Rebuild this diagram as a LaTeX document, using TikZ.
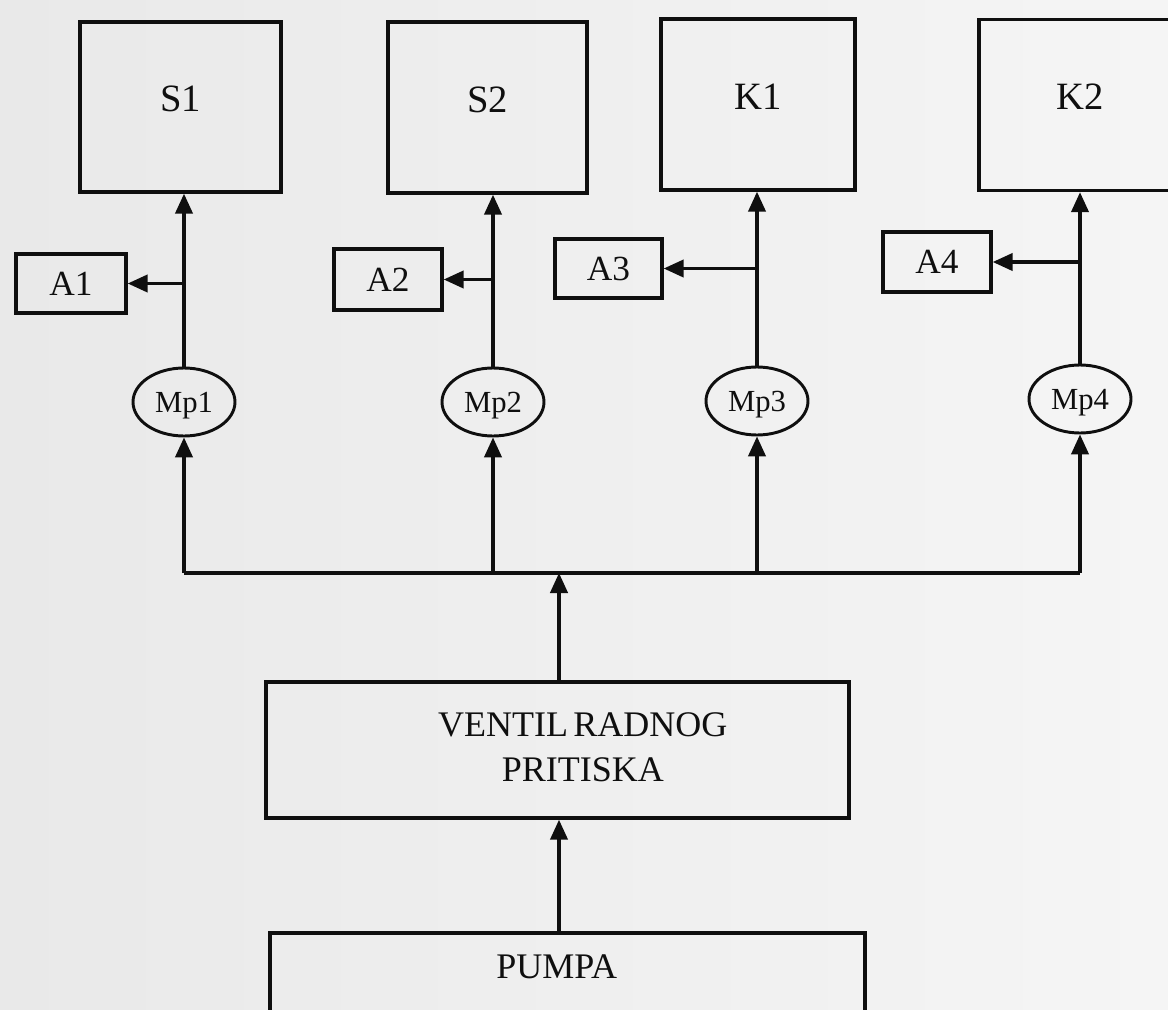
\documentclass[tikz,border=0pt]{standalone}
\usepackage{fontspec}
\setmainfont{Liberation Serif}
\usetikzlibrary{arrows.meta,shapes.geometric}
\definecolor{paperL}{RGB}{233,233,233}
\definecolor{paperR}{RGB}{245,245,245}
\definecolor{ink}{RGB}{15,15,15}
\begin{document}
\begin{tikzpicture}[x=0.75pt,y=-0.75pt,
  box/.style={draw=ink, line width=2.6pt, inner sep=0pt, text=ink},
  bigbox/.style={box, font=\fontsize{29}{30}\selectfont, text height=7pt, text depth=0pt},
  smallbox/.style={box, font=\fontsize{26.5}{28}\selectfont, minimum width=81pt, minimum height=44.5pt},
  gauge/.style={ellipse, draw=ink, line width=2.2pt, inner sep=0pt, text=ink,
    font=\fontsize{23}{25}\selectfont, minimum width=76.5pt, minimum height=51pt, text height=15pt, text depth=0pt},
  line/.style={draw=ink, line width=2.4pt},
  conn/.style={line, -{Triangle[length=15pt,width=13pt]}},
  lowtext/.style={font=\fontsize{27}{34}\selectfont, align=center, text=ink}
]
\shade[left color=paperL, right color=paperR] (0,0) rectangle (1168,1010);
\useasboundingbox (0,0) rectangle (1168,1010);
\clip (0,0) rectangle (1168,1010);

% top boxes
\node[bigbox, minimum width=150.75pt, minimum height=127.5pt]  (S1) at (180.5,107)  {S1};
\node[bigbox, minimum width=149.25pt, minimum height=128.25pt] (S2) at (487.5,107.5) {S2};
\node[bigbox, minimum width=145.5pt,  minimum height=128.25pt] (K1) at (758,104.5)  {K1};
\node[bigbox, minimum width=151.5pt,  minimum height=128.25pt] (K2) at (1080,105)   {K2};

% small boxes
\node[smallbox, minimum width=82.5pt] (A1) at (71,283.5)   {A1};
\node[smallbox, minimum height=45.75pt] (A2) at (388,279.5) {A2};
\node[smallbox, minimum width=80.25pt] (A3) at (608.5,268.5) {A3};
\node[smallbox, minimum height=45pt] (A4) at (937,262)      {A4};

% gauges
\node[gauge] (M1) at (184,402) {Mp1};
\node[gauge] (M2) at (493,402) {Mp2};
\node[gauge] (M3) at (757,401) {Mp3};
\node[gauge] (M4) at (1080,399) {Mp4};

% lower boxes
\node[box, minimum width=437.25pt, minimum height=102pt,
  label={[lowtext, xshift=19pt, yshift=2pt]center:VENTIL\kern-0.1em\ RADNOG\\PRITISKA}] (VR) at (557.5,750) {};
\node[box, minimum width=446.25pt, minimum height=90pt,
  label={[lowtext, xshift=-8pt, yshift=20pt]center:PUMPA}] (P) at (567.5,993) {};

% bus
\coordinate (bus) at (559,573);
\draw[line] (M1.south |- bus) -- (M4.south |- bus);

% bus to gauges
\draw[conn] (M1.south |- bus) -- (M1.south);
\draw[conn] (M2.south |- bus) -- (M2.south);
\draw[conn] (M3.south |- bus) -- (M3.south);
\draw[conn] (M4.south |- bus) -- (M4.south);

% gauges to consumers
\draw[conn] (M1.north) -- (M1.north |- S1.south);
\draw[conn] (M2.north) -- (M2.north |- S2.south);
\draw[conn] (M3.north) -- (M3.north |- K1.south);
\draw[conn] (M4.north) -- (M4.north |- K2.south);

% branches to A
\draw[conn] (M1.north |- A1.east) -- (A1.east);
\draw[conn] (M2.north |- A2.east) -- (A2.east);
\draw[conn] (M3.north |- A3.east) -- (A3.east);
\draw[conn] (M4.north |- A4.east) -- (A4.east);

% supply
\draw[conn] (VR.north -| bus) -- (bus);
\draw[conn] (P.north -| bus) -- (VR.south -| bus);
\end{tikzpicture}
\end{document}
